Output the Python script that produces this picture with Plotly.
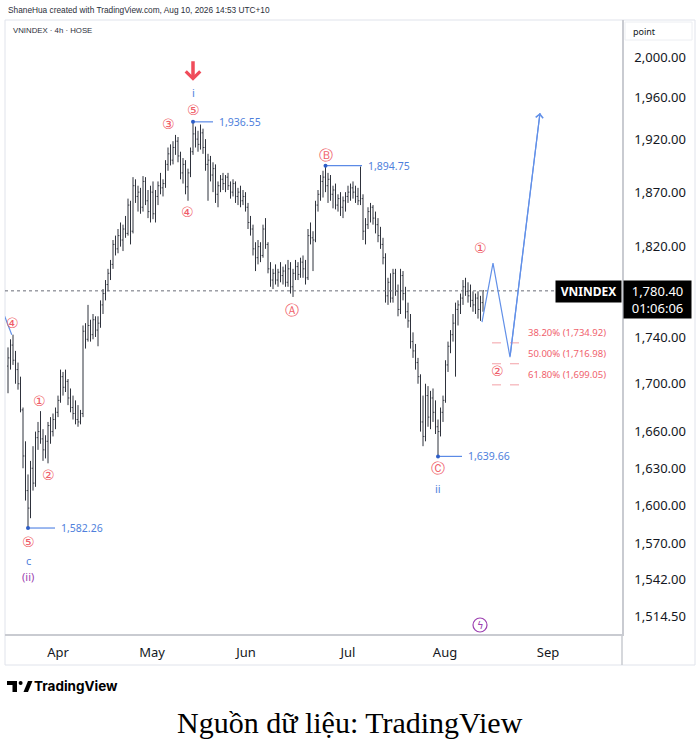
import math
import plotly.graph_objects as go

# ---------------- data ----------------
opens = [
    1715, 1722, 1733, 1720, 1712, 1700, 1678, 1640, 1612, 1598,
    1630, 1618, 1655, 1660, 1654, 1645, 1652, 1665, 1660, 1670,
    1676, 1686, 1706, 1697, 1702, 1688, 1680, 1675, 1670, 1668,
    1675, 1745, 1738, 1750, 1742, 1755, 1746, 1752, 1768, 1778,
    1786, 1796, 1804, 1822, 1818, 1830, 1826, 1836, 1832, 1858,
    1834, 1876, 1866, 1870, 1856, 1880, 1862, 1852, 1870, 1850,
    1866, 1876, 1874, 1878, 1896, 1906, 1900, 1912, 1918, 1904,
    1888, 1896, 1875, 1888, 1908, 1925, 1920, 1915, 1926, 1912,
    1896, 1900, 1886, 1892, 1868, 1876, 1882, 1878, 1884, 1876,
    1870, 1878, 1866, 1870, 1862, 1866, 1856, 1842, 1836, 1818,
    1810, 1820, 1812, 1836, 1822, 1800, 1790, 1796, 1790, 1797,
    1794, 1798, 1788, 1800, 1784, 1796, 1802, 1795, 1806, 1800,
    1792, 1830, 1828, 1826, 1858, 1868, 1880, 1884, 1876, 1882,
    1868, 1872, 1858, 1864, 1856, 1862, 1866, 1870, 1874, 1870,
    1866, 1862, 1864, 1834, 1840, 1852, 1856, 1846, 1840, 1830,
    1822, 1810, 1776, 1788, 1774, 1796, 1780, 1764, 1794, 1778,
    1762, 1754, 1736, 1728, 1718, 1706, 1668, 1656, 1690, 1672,
    1688, 1676, 1664, 1660, 1676, 1686, 1716, 1732, 1742, 1752,
    1764, 1768, 1774, 1784, 1780, 1776, 1772, 1768, 1774, 1764,
    1770,
]
highs = [
    1731, 1738, 1742, 1728, 1718, 1706, 1680, 1652, 1625, 1636,
    1648, 1660, 1668, 1677, 1662, 1657, 1668, 1672, 1675, 1680,
    1690, 1712, 1710, 1712, 1704, 1696, 1690, 1686, 1682, 1678,
    1750, 1752, 1768, 1755, 1760, 1758, 1758, 1772, 1782, 1790,
    1800, 1808, 1826, 1830, 1836, 1842, 1840, 1848, 1864, 1862,
    1884, 1882, 1876, 1874, 1885, 1884, 1872, 1876, 1880, 1872,
    1880, 1888, 1882, 1900, 1912, 1915, 1918, 1924, 1922, 1908,
    1902, 1900, 1892, 1912, 1936.55, 1932, 1928, 1934, 1930, 1920,
    1906, 1904, 1898, 1896, 1880, 1886, 1888, 1886, 1888, 1880,
    1882, 1880, 1874, 1876, 1872, 1870, 1860, 1848, 1840, 1824,
    1826, 1824, 1840, 1846, 1824, 1806, 1800, 1804, 1800, 1806,
    1802, 1804, 1808, 1806, 1800, 1808, 1806, 1810, 1812, 1808,
    1836, 1842, 1834, 1862, 1872, 1886, 1890, 1894.75, 1888, 1886,
    1876, 1878, 1868, 1870, 1866, 1870, 1876, 1878, 1880, 1876,
    1874, 1894, 1868, 1846, 1856, 1860, 1858, 1852, 1846, 1838,
    1828, 1814, 1792, 1796, 1800, 1800, 1786, 1800, 1798, 1784,
    1770, 1760, 1744, 1734, 1722, 1708, 1690, 1700, 1698, 1694,
    1696, 1686, 1670, 1680, 1690, 1720, 1736, 1746, 1760, 1770,
    1772, 1778, 1790, 1792, 1788, 1786, 1780, 1778, 1780, 1776,
    1781,
]
lows = [
    1692, 1712, 1716, 1700, 1695, 1676, 1630, 1604, 1582.26, 1590,
    1612, 1615, 1645, 1650, 1636, 1638, 1634, 1650, 1656, 1662,
    1672, 1684, 1690, 1693, 1682, 1676, 1670, 1666, 1664, 1666,
    1672, 1730, 1736, 1736, 1738, 1740, 1732, 1748, 1760, 1772,
    1780, 1790, 1800, 1812, 1814, 1820, 1816, 1828, 1830, 1822,
    1832, 1860, 1852, 1850, 1852, 1858, 1846, 1842, 1845, 1842,
    1858, 1868, 1866, 1874, 1890, 1895, 1896, 1905, 1898, 1882,
    1878, 1868, 1862, 1884, 1905, 1912, 1908, 1910, 1906, 1890,
    1862, 1880, 1870, 1860, 1856, 1870, 1872, 1870, 1872, 1864,
    1866, 1860, 1858, 1856, 1858, 1852, 1836, 1830, 1812, 1798,
    1804, 1806, 1810, 1818, 1796, 1784, 1782, 1786, 1784, 1788,
    1786, 1784, 1784, 1778, 1775, 1790, 1790, 1792, 1792, 1786,
    1790, 1822, 1798, 1824, 1852, 1862, 1865, 1870, 1860, 1862,
    1855, 1854, 1852, 1848, 1846, 1852, 1860, 1862, 1864, 1860,
    1858, 1858, 1826, 1822, 1836, 1842, 1840, 1832, 1824, 1818,
    1804, 1770, 1768, 1770, 1770, 1776, 1758, 1760, 1772, 1756,
    1748, 1730, 1722, 1712, 1700, 1660, 1648, 1652, 1664, 1662,
    1668, 1658, 1639.66, 1656, 1668, 1684, 1710, 1726, 1736, 1706,
    1750, 1760, 1768, 1776, 1770, 1766, 1762, 1760, 1756, 1754,
    1762,
]
closes = [
    1722, 1733, 1720, 1712, 1700, 1678, 1640, 1612, 1598, 1630,
    1618, 1655, 1660, 1654, 1645, 1652, 1665, 1660, 1670, 1676,
    1686, 1706, 1697, 1702, 1688, 1680, 1675, 1670, 1668, 1675,
    1745, 1738, 1750, 1742, 1755, 1746, 1752, 1768, 1778, 1786,
    1796, 1804, 1822, 1818, 1830, 1826, 1836, 1832, 1858, 1834,
    1876, 1866, 1870, 1856, 1880, 1862, 1852, 1870, 1850, 1866,
    1876, 1874, 1878, 1896, 1906, 1900, 1912, 1918, 1904, 1888,
    1896, 1875, 1888, 1908, 1925, 1920, 1915, 1926, 1912, 1896,
    1900, 1886, 1892, 1868, 1876, 1882, 1878, 1884, 1876, 1870,
    1878, 1866, 1870, 1862, 1866, 1856, 1842, 1836, 1818, 1810,
    1820, 1812, 1836, 1822, 1800, 1790, 1796, 1790, 1797, 1794,
    1798, 1788, 1800, 1784, 1796, 1802, 1795, 1806, 1800, 1792,
    1830, 1828, 1826, 1858, 1868, 1880, 1884, 1876, 1882, 1868,
    1872, 1858, 1864, 1856, 1862, 1866, 1870, 1874, 1870, 1866,
    1862, 1864, 1834, 1840, 1852, 1856, 1846, 1840, 1830, 1822,
    1810, 1776, 1788, 1774, 1796, 1780, 1764, 1794, 1778, 1762,
    1754, 1736, 1728, 1718, 1706, 1668, 1656, 1690, 1672, 1688,
    1676, 1664, 1660, 1676, 1686, 1716, 1732, 1742, 1752, 1764,
    1768, 1774, 1784, 1780, 1776, 1772, 1768, 1774, 1764, 1770,
    1780.4,
]
assert len(opens) == len(highs) == len(lows) == len(closes)

month_labels = ["Apr", "May", "Jun", "Jul", "Aug", "Sep"]
month_start_bar = [20, 57.6, 95.2, 136, 174.8, 216]

price_ticks = [2000, 1960, 1920, 1870, 1820, 1740, 1700, 1660, 1630, 1600, 1570, 1542, 1514.5]

# projected wave path (bar index, price)
proj_bar = [189.6, 194.0, 200.8, 212.8]
proj_price = [1753.0, 1805.2, 1722.7, 1945.1]

# previous wave line entering from the left edge
prev_wave_bar = [-3.6, 1.5]
prev_wave_price = [1771.0, 1742.0]

fib_names = ["38.20%", "50.00%", "61.80%"]
fib_prices = [1734.92, 1716.98, 1699.05]
fib_bar_span = [193.6, 205.2]

# ---------------- style / geometry ----------------
W, H = 700, 748
PL, PR, PT, PB = 5, 622, 20, 634
FONT = "Noto Sans, Open Sans, DejaVu Sans, sans-serif"
INK = "#131722"
RED = "#ef5d68"
BLUE = "#4f7fdc"
PURPLE = "#9c3fb0"
BAR = "#2e323c"
GRAYLINE = "#c9cbd1"

x_range = [-1.2, 245.6]
y_range = [math.log10(1501.0), math.log10(2037.2)]


def px(x):
    return (x - PL) / (PR - PL)


def py(y):
    return (PB - y) / (PB - PT)


def L(v):
    return math.log10(v)


n = len(closes)
bars = list(range(n))
last = closes[-1]

fig = go.Figure()

# current price dotted line
fig.add_trace(go.Scatter(x=x_range, y=[last, last], mode="lines",
                         line=dict(color="#6a6d78", width=1, dash="dot"),
                         hoverinfo="skip"))

fig.add_trace(go.Ohlc(x=bars, open=opens, high=highs, low=lows, close=closes,
                      increasing=dict(line=dict(color=BAR, width=1)),
                      decreasing=dict(line=dict(color=BAR, width=1)),
                      tickwidth=0.35, hoverinfo="skip"))

# previous wave line
fig.add_trace(go.Scatter(x=prev_wave_bar, y=prev_wave_price, mode="lines",
                         line=dict(color="#6290e8", width=1.2), hoverinfo="skip"))

# projection
fig.add_trace(go.Scatter(x=proj_bar, y=proj_price, mode="lines",
                         line=dict(color="#6290e8", width=1.2), hoverinfo="skip"))

# fib dashed lines
for p in fib_prices:
    fig.add_trace(go.Scatter(x=fib_bar_span, y=[p, p], mode="lines",
                             line=dict(color="#f3a0a6", width=1, dash="dash"),
                             hoverinfo="skip"))

# price flags (dot + line + text)
flags = [(8, lows[8], 10.8), (74, highs[74], 8.0), (127, highs[127], 14.6), (172, lows[172], 9.6)]
annotations = []
for b, p, ln in flags:
    fig.add_trace(go.Scatter(x=[b, b + ln], y=[p, p], mode="lines",
                             line=dict(color="#5b8ae6", width=1.2), hoverinfo="skip"))
    fig.add_trace(go.Scatter(x=[b], y=[p], mode="markers",
                             marker=dict(color="#2f5fc8", size=4), hoverinfo="skip"))
    annotations.append(dict(x=b + ln, y=L(p), xref="x", yref="y", text=f"{p:,.2f}",
                            showarrow=False, xanchor="left", xshift=4, yanchor="middle",
                            font=dict(family=FONT, size=10.5, color=BLUE)))


def lab(text, bar, price, yshift, color=RED, size=14):
    return dict(x=bar, y=L(price), xref="x", yref="y", text=text, showarrow=False,
                xanchor="center", yanchor="middle", yshift=yshift,
                font=dict(family=FONT, size=size, color=color))


annotations += [
    lab("④", 1.6, highs[2], 12),
    lab("①", 12.4, highs[13], 11),
    lab("②", 16, lows[16], -11),
    lab("⑤", 8, lows[8], -13),
    lab("c", 8, lows[8], -32, BLUE, 11),
    lab("(ii)", 8, lows[8], -48, PURPLE, 11),
    lab("③", 64, highs[67], 11),
    lab("④", 71.6, lows[72], -11),
    lab("⑤", 74, highs[74], 12),
    lab("i", 74, highs[74], 29, BLUE, 11),
    lab("Ⓐ", 113.6, lows[114], -13),
    lab("Ⓑ", 127, highs[127], 11),
    lab("Ⓒ", 172, lows[172], -11),
    lab("ii", 172, lows[172], -32, BLUE, 11),
    lab("①", 188.8, highs[183], 30),
    lab("②", 195.6, fib_prices[2], 14),
]

# red down arrow above the top
annotations.append(dict(x=74, y=L(highs[74]), xref="x", yref="y", yshift=41, text="",
                        showarrow=True, ax=0, ay=-21, arrowhead=4, arrowsize=0.8,
                        arrowwidth=3.5, arrowcolor="#f04c5a"))

# arrow head on projection
annotations.append(dict(x=proj_bar[-1], y=L(proj_price[-1]), xref="x", yref="y",
                        ax=proj_bar[-2], ay=L(proj_price[-2]), axref="x", ayref="y",
                        text="", showarrow=True, arrowhead=4, arrowsize=1.2,
                        arrowwidth=1.2, arrowcolor="#6290e8"))

# fib labels
for name, p in zip(fib_names, fib_prices):
    annotations.append(dict(x=fib_bar_span[1], y=L(p), xref="x", yref="y",
                            text=f"{name} ({p:,.2f})", showarrow=False,
                            xanchor="left", xshift=5, yanchor="middle", yshift=10,
                            font=dict(family=FONT, size=9.5, color="#f0616d")))

# price labels on the right
annotations.append(dict(x=1, y=L(last), xref="paper", yref="y", xanchor="left", xshift=1,
                        yanchor="top", yshift=11, text=f"{last:,.2f}<br>01:06:06",
                        showarrow=False, bgcolor="#000000", width=63, height=33,
                        borderpad=2, align="center",
                        font=dict(family=FONT, size=13, color="white")))
annotations.append(dict(x=1, y=L(last), xref="paper", yref="y", xanchor="right",
                        yanchor="top", yshift=11, text="<b>VNINDEX</b>",
                        showarrow=False, bgcolor="#000000", width=61, height=17,
                        borderpad=2, align="center",
                        font=dict(family=FONT, size=12, color="white")))

# lightning event marker
ev_bar = n - 1 - 1.2
annotations.append(dict(x=ev_bar, y=py(625), xref="x", yref="paper", text="ϟ",
                        showarrow=False, xanchor="center", yanchor="middle",
                        font=dict(family="DejaVu Sans", size=10, color=PURPLE)))

# header / footer texts
annotations += [
    dict(x=px(6), y=py(10), xref="paper", yref="paper", xanchor="left", yanchor="middle",
         text="ShaneHua created with TradingView.com, Aug 10, 2026 14:53 UTC+10",
         showarrow=False, font=dict(family="Liberation Sans, Arial, sans-serif", size=8.3, color="#2a2e39")),
    dict(x=px(11), y=py(30), xref="paper", yref="paper", xanchor="left", yanchor="middle",
         text="VNINDEX · 4h · HOSE", showarrow=False,
         font=dict(family="Liberation Sans, Arial, sans-serif", size=7.8, color="#2a2e39")),
    dict(x=px(631), y=py(31), xref="paper", yref="paper", xanchor="left", yanchor="middle",
         text="point", showarrow=False, font=dict(family=FONT, size=9, color=INK)),
    dict(x=px(32), y=py(686), xref="paper", yref="paper", xanchor="left", yanchor="middle",
         text="<b>TradingView</b>", showarrow=False,
         font=dict(family="Inter, Noto Sans, sans-serif", size=13.5, color="#000000")),
    dict(x=px(350), y=py(722), xref="paper", yref="paper", xanchor="center", yanchor="middle",
         text="Nguồn dữ liệu: TradingView", showarrow=False,
         font=dict(family="Liberation Serif, Times New Roman, serif", size=30, color="#000000")),
]


def path(points):
    return "M" + " L".join(f"{px(x):.5f},{py(y):.5f}" for x, y in points) + " Z"


shapes = [
    # outer frame
    dict(type="rect", xref="paper", yref="paper", x0=px(5), x1=px(695), y0=py(665), y1=py(20),
         line=dict(color="#e0e3eb", width=1), layer="below"),
    # price axis separator extension into time panel
    dict(type="line", xref="paper", yref="paper", x0=px(622), x1=px(622), y0=py(634), y1=py(665),
         line=dict(color=GRAYLINE, width=1.5)),
    # "point" box
    dict(type="rect", xref="paper", yref="paper", x0=px(625), x1=px(692), y0=py(40), y1=py(22),
         line=dict(color="#eceef2", width=1)),
    # lightning circle
    dict(type="circle", xref="x", yref="paper", xsizemode="pixel", xanchor=ev_bar,
         x0=-7, x1=7, y0=py(632), y1=py(618), line=dict(color=PURPLE, width=1.2)),
    # TradingView logo
    dict(type="path", xref="paper", yref="paper",
         path=path([(7, 681), (17, 681), (17, 692), (12.5, 692), (12.5, 685), (7, 685)]),
         fillcolor="#000", line=dict(width=0)),
    dict(type="circle", xref="paper", yref="paper", x0=px(18.6), x1=px(22.6), y0=py(685), y1=py(681),
         fillcolor="#000", line=dict(width=0)),
    dict(type="path", xref="paper", yref="paper",
         path=path([(23.5, 692), (28, 681), (32.5, 681), (28, 692)]),
         fillcolor="#000", line=dict(width=0)),
]

fig.update_layout(
    width=W, height=H,
    margin=dict(l=PL, r=W - PR, t=PT, b=H - PB),
    paper_bgcolor="white", plot_bgcolor="white",
    showlegend=False, hovermode=False,
    font=dict(family=FONT, color=INK),
    annotations=annotations, shapes=shapes,
    xaxis=dict(range=x_range, tickvals=month_start_bar, ticktext=month_labels,
               showgrid=False, zeroline=False, showline=True, linecolor=GRAYLINE,
               linewidth=1.5, ticks="", ticklabelstandoff=6,
               tickfont=dict(family=FONT, size=13, color=INK),
               rangeslider=dict(visible=False), fixedrange=True),
    yaxis=dict(type="log", side="right", range=y_range, tickvals=price_ticks,
               ticktext=[f"{v:,.2f}" for v in price_ticks],
               showgrid=False, zeroline=False, showline=True, linecolor=GRAYLINE,
               linewidth=1.5, ticks="", ticklabelstandoff=8,
               tickfont=dict(family=FONT, size=13, color=INK), fixedrange=True),
)

fig.write_html("out.html", config={"displayModeBar": False},
               post_script="document.body.style.margin='0';document.body.style.padding='0';")
